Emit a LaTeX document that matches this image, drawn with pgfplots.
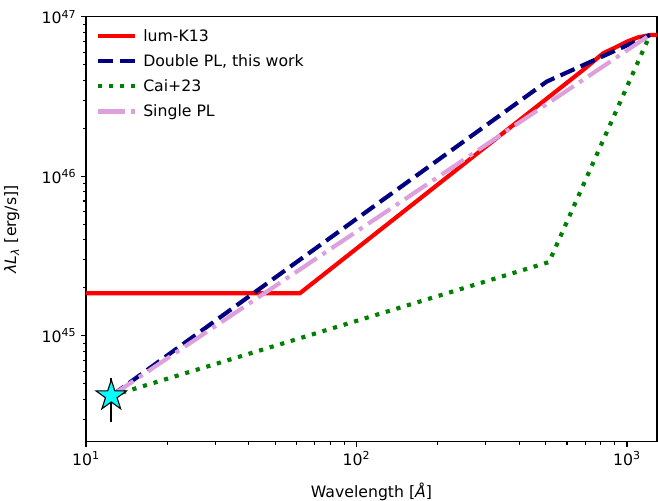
\documentclass[border=0pt]{standalone}
\usepackage{pgfplots}
\pgfplotsset{compat=1.18}
\usepackage{fontspec}
\setmainfont{DejaVu Sans}
\definecolor{plum}{RGB}{221,160,221}
\definecolor{mplgreen}{RGB}{0,128,0}
\definecolor{navy}{RGB}{0,0,128}
\definecolor{aqua}{RGB}{0,255,255}
\pgfdeclareplotmark{fstar}{%
  \pgfpathmoveto{\pgfpointpolar{90}{\pgfplotmarksize}}%
  \pgfpathlineto{\pgfpointpolar{126}{0.382\pgfplotmarksize}}%
  \pgfpathlineto{\pgfpointpolar{162}{\pgfplotmarksize}}%
  \pgfpathlineto{\pgfpointpolar{198}{0.382\pgfplotmarksize}}%
  \pgfpathlineto{\pgfpointpolar{234}{\pgfplotmarksize}}%
  \pgfpathlineto{\pgfpointpolar{270}{0.382\pgfplotmarksize}}%
  \pgfpathlineto{\pgfpointpolar{306}{\pgfplotmarksize}}%
  \pgfpathlineto{\pgfpointpolar{342}{0.382\pgfplotmarksize}}%
  \pgfpathlineto{\pgfpointpolar{18}{\pgfplotmarksize}}%
  \pgfpathlineto{\pgfpointpolar{54}{0.382\pgfplotmarksize}}%
  \pgfpathclose
  \pgfusepathqfillstroke}
\begin{document}
\begin{tikzpicture}
\path[use as bounding box] (-61.92pt,-42.48pt) rectangle ++(473.76pt,360.72pt);
\begin{axis}[
  at={(0,0)}, anchor=south west,
  scale only axis, width=411.1pt, height=306pt,
  xmode=log, ymode=log, log basis x=10, log basis y=10,
  xmin=10, xmax=1291, ymin=2.16e44, ymax=1e47,
  axis line style={line width=0.8pt},
  tick style={black, line width=0.8pt},
  major tick length=3.5pt, minor tick length=2pt,
  tick align=outside,
  xtick pos=bottom, ytick pos=left,
  xticklabel={10\textsuperscript{\pgfmathparse{int(round(\tick))}\pgfmathresult}},
  yticklabel={10\textsuperscript{\pgfmathparse{int(round(\tick))}\pgfmathresult}},
  ticklabel style={font=\fontsize{11.3}{13}\selectfont},
  xlabel={Wavelength [\textit{Å}]},
  ylabel={\textit{λL}\textsubscript{\textit{λ}} [erg/s]]},
  label style={font=\fontsize{11.3}{13}\selectfont},
  xlabel style={at={(axis description cs:0.5,-0.118)}, anchor=center},
  ylabel style={at={(axis description cs:-0.13,0.5)}, anchor=center, rotate=0},
  legend cell align=left,
  legend image code/.code={\draw[#1] (0pt,0pt) -- (26.6pt,0pt);},
  legend style={at={(axis description cs:0.012,0.985)}, anchor=north west,
    draw=none, fill=none, font=\fontsize{11.3}{13}\selectfont,
    row sep=4pt, inner sep=2pt,
    nodes={inner xsep=4.5pt}},
]
\addplot[red, line width=3pt] coordinates {
 (10,1.85e45) (61.8,1.85e45) (690,4.66e46) (817,5.92e46) (900,6.4e46)
 (1000,7.0e46) (1100,7.45e46) (1216,7.7e46) (1300,7.7e46)};
\addlegendentry{lum-K13}
\addplot[navy, line width=3pt, dash pattern=on 11.1pt off 4.8pt] coordinates {
 (12.4,4.2e44) (505,3.93e46) (1216,7.7e46)};
\addlegendentry{Double PL, this work}
\addplot[mplgreen, line width=3pt, dash pattern=on 3pt off 4.95pt] coordinates {
 (12.4,4.2e44) (515,2.9e45) (1216,7.7e46)};
\addlegendentry{Cai+23}
\addplot[plum, line width=3pt, dash pattern=on 19.2pt off 4.8pt on 3pt off 4.8pt] coordinates {
 (12.4,4.2e44) (1216,7.7e46)};
\addlegendentry{Single PL}
\addplot[black, line width=1.2pt, forget plot] coordinates {(12.4,2.89e44) (12.4,5.4e44)};
\addplot[only marks, mark=fstar, mark size=11.5pt, mark options={fill=aqua, draw=black, line width=0.8pt}, forget plot] coordinates {(12.4,4.2e44)};
\end{axis}
\end{tikzpicture}
\end{document}
